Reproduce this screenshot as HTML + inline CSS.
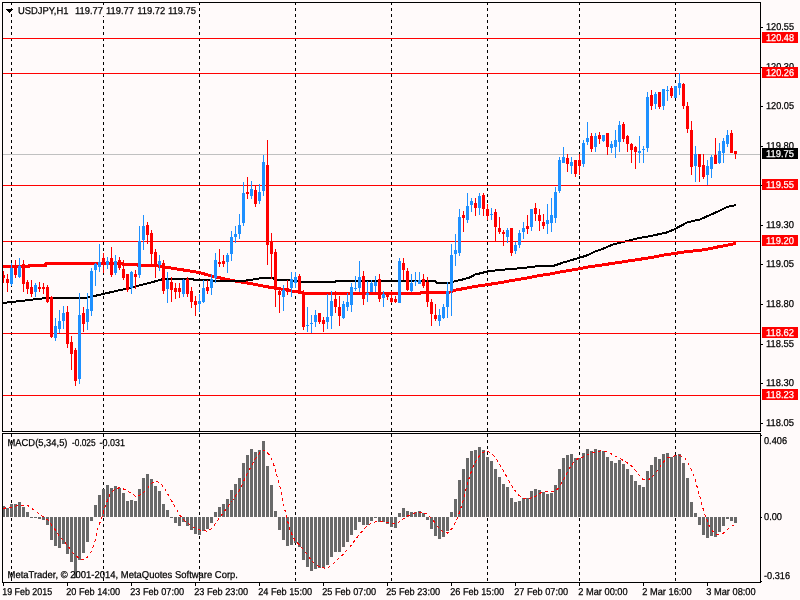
<!DOCTYPE html>
<html><head><meta charset="utf-8"><title>USDJPY,H1</title>
<style>html,body{margin:0;padding:0;background:#FFFAFA;overflow:hidden}svg{display:block}text{font-family:"Liberation Sans",sans-serif;font-size:10px;text-rendering:geometricPrecision;fill:#000;stroke:#000;stroke-width:0.25px}.w{fill:#fff;stroke:#fff}</style></head><body>
<svg width="800" height="600" viewBox="0 0 800 600">
<rect width="800" height="600" fill="#FFFAFA"/>
<g shape-rendering="crispEdges">
<line x1="11.5" y1="2" x2="11.5" y2="431" stroke="#000" stroke-width="1" stroke-dasharray="3 3"/>
<line x1="11.5" y1="434" x2="11.5" y2="582" stroke="#000" stroke-width="1" stroke-dasharray="3 3"/>
<line x1="103.5" y1="2" x2="103.5" y2="431" stroke="#000" stroke-width="1" stroke-dasharray="3 3"/>
<line x1="103.5" y1="434" x2="103.5" y2="582" stroke="#000" stroke-width="1" stroke-dasharray="3 3"/>
<line x1="199.5" y1="2" x2="199.5" y2="431" stroke="#000" stroke-width="1" stroke-dasharray="3 3"/>
<line x1="199.5" y1="434" x2="199.5" y2="582" stroke="#000" stroke-width="1" stroke-dasharray="3 3"/>
<line x1="295.5" y1="2" x2="295.5" y2="431" stroke="#000" stroke-width="1" stroke-dasharray="3 3"/>
<line x1="295.5" y1="434" x2="295.5" y2="582" stroke="#000" stroke-width="1" stroke-dasharray="3 3"/>
<line x1="391.5" y1="2" x2="391.5" y2="431" stroke="#000" stroke-width="1" stroke-dasharray="3 3"/>
<line x1="391.5" y1="434" x2="391.5" y2="582" stroke="#000" stroke-width="1" stroke-dasharray="3 3"/>
<line x1="487.5" y1="2" x2="487.5" y2="431" stroke="#000" stroke-width="1" stroke-dasharray="3 3"/>
<line x1="487.5" y1="434" x2="487.5" y2="582" stroke="#000" stroke-width="1" stroke-dasharray="3 3"/>
<line x1="579.5" y1="2" x2="579.5" y2="431" stroke="#000" stroke-width="1" stroke-dasharray="3 3"/>
<line x1="579.5" y1="434" x2="579.5" y2="582" stroke="#000" stroke-width="1" stroke-dasharray="3 3"/>
<line x1="675.5" y1="2" x2="675.5" y2="431" stroke="#000" stroke-width="1" stroke-dasharray="3 3"/>
<line x1="675.5" y1="434" x2="675.5" y2="582" stroke="#000" stroke-width="1" stroke-dasharray="3 3"/>
<rect x="18" y="5" width="179" height="11" fill="#FFFAFA"/>
<polyline points="3,266.5 28.5,266.5 29,265.5 45.5,265.5 46,263.5 122,263.5 123,264.5 137,264.5 138,265.5 155,265.5 165,267 175,268.75 187.5,270.6 200,272.75 212.5,276.25 225,279 237.5,281.5 250,283.4 262.5,285.9 272.5,287.75 281,289 291,290.9 300,292.1 304,293.2 420,293.2 422,292 450,292 456,290 465,288.4 475,286.5 487.5,284.6 500,282.7 512.5,280.4 525,278.4 537.5,275.9 550,274 562.5,271.5 575,269.6 587.5,267.1 600,265.3 612.5,263.4 625,261.5 637.5,259.6 650,257.75 662.5,255.25 675,253.4 687.5,251.5 700,250.4 710,248.6 720,246.5 728,245 736,243.5" fill="none" stroke="#FF0000" stroke-width="3" stroke-linejoin="round"/>
<polyline points="3,303 25,300.5 46,298 86,298 100,294.7 125,289 150,282.8 162.5,279.2 167,279 192,279 195,280 212,280 214,281 242,281 250,280 256,279 265,277.5 270,277.5 277,279.5 288,279.5 292,280.5 300,281.5 303,282 335,282 336,281 435,281.3 437,282.75 450,282.75 454,281.5 462.5,279.5 470,277.4 475,274.6 487.5,271.5 500,269.9 512.5,269 525,267.75 537.5,266.25 554,265.75 562.5,262.75 575,259.1 587.5,255.25 595,251.5 600,250 612.5,244.6 625,241.5 637.5,238.4 650,236.1 666,232.75 675,229 687.5,222.2 700,219.5 710,215 720,210.5 727,207 736,205" fill="none" stroke="#000" stroke-width="2" stroke-linejoin="round"/>
<rect x="3" y="154" width="757" height="1" fill="#C0C0C0"/>
<rect x="3" y="38" width="757" height="1" fill="#FF0000"/>
<rect x="3" y="73" width="757" height="1" fill="#FF0000"/>
<rect x="3" y="185" width="757" height="1" fill="#FF0000"/>
<rect x="3" y="241" width="757" height="1" fill="#FF0000"/>
<rect x="3" y="333" width="757" height="1" fill="#FF0000"/>
<rect x="3" y="395" width="757" height="1" fill="#FF0000"/>
<rect x="3" y="271" width="1" height="12" fill="#FF0000"/>
<rect x="2" y="275" width="3" height="3" fill="#FF0000"/>
<rect x="7" y="274" width="1" height="18" fill="#FF0000"/>
<rect x="6" y="279" width="3" height="4" fill="#FF0000"/>
<rect x="11" y="263" width="1" height="23" fill="#1E90FF"/>
<rect x="10" y="268" width="3" height="16" fill="#1E90FF"/>
<rect x="15" y="260" width="1" height="18" fill="#FF0000"/>
<rect x="14" y="266" width="3" height="9" fill="#FF0000"/>
<rect x="19" y="258" width="1" height="20" fill="#1E90FF"/>
<rect x="18" y="266" width="3" height="11" fill="#1E90FF"/>
<rect x="23" y="260" width="1" height="32" fill="#FF0000"/>
<rect x="22" y="264" width="3" height="20" fill="#FF0000"/>
<rect x="27" y="280" width="1" height="14" fill="#FF0000"/>
<rect x="26" y="282" width="3" height="7" fill="#FF0000"/>
<rect x="31" y="280" width="1" height="17" fill="#FF0000"/>
<rect x="30" y="287" width="3" height="7" fill="#FF0000"/>
<rect x="35" y="283" width="1" height="14" fill="#1E90FF"/>
<rect x="34" y="285" width="3" height="7" fill="#1E90FF"/>
<rect x="39" y="282" width="1" height="10" fill="#FF0000"/>
<rect x="38" y="287" width="3" height="2" fill="#FF0000"/>
<rect x="43" y="283" width="1" height="11" fill="#FF0000"/>
<rect x="42" y="287" width="3" height="2" fill="#FF0000"/>
<rect x="47" y="285" width="1" height="18" fill="#FF0000"/>
<rect x="46" y="287" width="3" height="15" fill="#FF0000"/>
<rect x="51" y="296" width="1" height="42" fill="#FF0000"/>
<rect x="50" y="297" width="3" height="40" fill="#FF0000"/>
<rect x="55" y="318" width="1" height="23" fill="#1E90FF"/>
<rect x="54" y="326" width="3" height="12" fill="#1E90FF"/>
<rect x="59" y="310" width="1" height="23" fill="#1E90FF"/>
<rect x="58" y="321" width="3" height="8" fill="#1E90FF"/>
<rect x="63" y="306" width="1" height="23" fill="#1E90FF"/>
<rect x="62" y="313" width="3" height="8" fill="#1E90FF"/>
<rect x="67" y="306" width="1" height="42" fill="#FF0000"/>
<rect x="66" y="312" width="3" height="32" fill="#FF0000"/>
<rect x="71" y="336" width="1" height="34" fill="#FF0000"/>
<rect x="70" y="342" width="3" height="12" fill="#FF0000"/>
<rect x="75" y="348" width="1" height="38" fill="#FF0000"/>
<rect x="74" y="350" width="3" height="31" fill="#FF0000"/>
<rect x="79" y="293" width="1" height="91" fill="#1E90FF"/>
<rect x="78" y="315" width="3" height="64" fill="#1E90FF"/>
<rect x="83" y="307" width="1" height="25" fill="#FF0000"/>
<rect x="82" y="313" width="3" height="11" fill="#FF0000"/>
<rect x="87" y="293" width="1" height="37" fill="#1E90FF"/>
<rect x="86" y="309" width="3" height="13" fill="#1E90FF"/>
<rect x="91" y="268" width="1" height="48" fill="#1E90FF"/>
<rect x="90" y="271" width="3" height="40" fill="#1E90FF"/>
<rect x="95" y="263" width="1" height="23" fill="#1E90FF"/>
<rect x="94" y="264" width="3" height="6" fill="#1E90FF"/>
<rect x="99" y="244" width="1" height="28" fill="#1E90FF"/>
<rect x="98" y="262" width="3" height="5" fill="#1E90FF"/>
<rect x="103" y="253" width="1" height="20" fill="#FF0000"/>
<rect x="102" y="258" width="3" height="6" fill="#FF0000"/>
<rect x="107" y="257" width="1" height="12" fill="#1E90FF"/>
<rect x="106" y="261" width="3" height="4" fill="#1E90FF"/>
<rect x="111" y="247" width="1" height="30" fill="#FF0000"/>
<rect x="110" y="258" width="3" height="17" fill="#FF0000"/>
<rect x="115" y="255" width="1" height="20" fill="#1E90FF"/>
<rect x="114" y="261" width="3" height="12" fill="#1E90FF"/>
<rect x="119" y="257" width="1" height="13" fill="#FF0000"/>
<rect x="118" y="260" width="3" height="8" fill="#FF0000"/>
<rect x="123" y="260" width="1" height="20" fill="#FF0000"/>
<rect x="122" y="269" width="3" height="9" fill="#FF0000"/>
<rect x="127" y="274" width="1" height="18" fill="#FF0000"/>
<rect x="126" y="274" width="3" height="16" fill="#FF0000"/>
<rect x="131" y="271" width="1" height="23" fill="#1E90FF"/>
<rect x="130" y="272" width="3" height="16" fill="#1E90FF"/>
<rect x="135" y="270" width="1" height="19" fill="#FF0000"/>
<rect x="134" y="274" width="3" height="3" fill="#FF0000"/>
<rect x="139" y="226" width="1" height="52" fill="#1E90FF"/>
<rect x="138" y="241" width="3" height="34" fill="#1E90FF"/>
<rect x="143" y="215" width="1" height="35" fill="#1E90FF"/>
<rect x="142" y="226" width="3" height="14" fill="#1E90FF"/>
<rect x="147" y="222" width="1" height="22" fill="#FF0000"/>
<rect x="146" y="225" width="3" height="10" fill="#FF0000"/>
<rect x="151" y="230" width="1" height="34" fill="#FF0000"/>
<rect x="150" y="233" width="3" height="21" fill="#FF0000"/>
<rect x="155" y="249" width="1" height="29" fill="#FF0000"/>
<rect x="154" y="252" width="3" height="13" fill="#FF0000"/>
<rect x="159" y="255" width="1" height="16" fill="#1E90FF"/>
<rect x="158" y="261" width="3" height="4" fill="#1E90FF"/>
<rect x="163" y="260" width="1" height="34" fill="#FF0000"/>
<rect x="162" y="263" width="3" height="28" fill="#FF0000"/>
<rect x="167" y="272" width="1" height="31" fill="#1E90FF"/>
<rect x="166" y="280" width="3" height="9" fill="#1E90FF"/>
<rect x="171" y="277" width="1" height="25" fill="#FF0000"/>
<rect x="170" y="282" width="3" height="8" fill="#FF0000"/>
<rect x="175" y="283" width="1" height="16" fill="#FF0000"/>
<rect x="174" y="288" width="3" height="4" fill="#FF0000"/>
<rect x="179" y="283" width="1" height="15" fill="#FF0000"/>
<rect x="178" y="288" width="3" height="4" fill="#FF0000"/>
<rect x="183" y="279" width="1" height="18" fill="#1E90FF"/>
<rect x="182" y="280" width="3" height="14" fill="#1E90FF"/>
<rect x="187" y="277" width="1" height="20" fill="#FF0000"/>
<rect x="186" y="279" width="3" height="15" fill="#FF0000"/>
<rect x="191" y="287" width="1" height="21" fill="#FF0000"/>
<rect x="190" y="291" width="3" height="11" fill="#FF0000"/>
<rect x="195" y="296" width="1" height="20" fill="#FF0000"/>
<rect x="194" y="301" width="3" height="4" fill="#FF0000"/>
<rect x="199" y="294" width="1" height="18" fill="#1E90FF"/>
<rect x="198" y="301" width="3" height="3" fill="#1E90FF"/>
<rect x="203" y="280" width="1" height="23" fill="#1E90FF"/>
<rect x="202" y="288" width="3" height="14" fill="#1E90FF"/>
<rect x="207" y="280" width="1" height="14" fill="#FF0000"/>
<rect x="206" y="287" width="3" height="4" fill="#FF0000"/>
<rect x="211" y="274" width="1" height="21" fill="#1E90FF"/>
<rect x="210" y="279" width="3" height="9" fill="#1E90FF"/>
<rect x="215" y="253" width="1" height="30" fill="#1E90FF"/>
<rect x="214" y="260" width="3" height="18" fill="#1E90FF"/>
<rect x="219" y="249" width="1" height="18" fill="#FF0000"/>
<rect x="218" y="262" width="3" height="2" fill="#FF0000"/>
<rect x="223" y="255" width="1" height="12" fill="#FF0000"/>
<rect x="222" y="261" width="3" height="3" fill="#FF0000"/>
<rect x="227" y="253" width="1" height="20" fill="#1E90FF"/>
<rect x="226" y="255" width="3" height="7" fill="#1E90FF"/>
<rect x="231" y="231" width="1" height="30" fill="#1E90FF"/>
<rect x="230" y="237" width="3" height="17" fill="#1E90FF"/>
<rect x="235" y="226" width="1" height="17" fill="#1E90FF"/>
<rect x="234" y="234" width="3" height="3" fill="#1E90FF"/>
<rect x="239" y="214" width="1" height="25" fill="#1E90FF"/>
<rect x="238" y="225" width="3" height="9" fill="#1E90FF"/>
<rect x="243" y="182" width="1" height="44" fill="#1E90FF"/>
<rect x="242" y="193" width="3" height="30" fill="#1E90FF"/>
<rect x="247" y="177" width="1" height="22" fill="#FF0000"/>
<rect x="246" y="192" width="3" height="2" fill="#FF0000"/>
<rect x="251" y="181" width="1" height="18" fill="#1E90FF"/>
<rect x="250" y="189" width="3" height="7" fill="#1E90FF"/>
<rect x="255" y="186" width="1" height="21" fill="#FF0000"/>
<rect x="254" y="190" width="3" height="14" fill="#FF0000"/>
<rect x="259" y="184" width="1" height="20" fill="#1E90FF"/>
<rect x="258" y="192" width="3" height="9" fill="#1E90FF"/>
<rect x="263" y="155" width="1" height="41" fill="#1E90FF"/>
<rect x="262" y="162" width="3" height="29" fill="#1E90FF"/>
<rect x="267" y="140" width="1" height="125" fill="#FF0000"/>
<rect x="266" y="165" width="3" height="80" fill="#FF0000"/>
<rect x="271" y="233" width="1" height="46" fill="#FF0000"/>
<rect x="270" y="241" width="3" height="13" fill="#FF0000"/>
<rect x="275" y="249" width="1" height="58" fill="#FF0000"/>
<rect x="274" y="252" width="3" height="38" fill="#FF0000"/>
<rect x="279" y="290" width="1" height="23" fill="#FF0000"/>
<rect x="278" y="291" width="3" height="4" fill="#FF0000"/>
<rect x="283" y="285" width="1" height="26" fill="#1E90FF"/>
<rect x="282" y="290" width="3" height="7" fill="#1E90FF"/>
<rect x="287" y="280" width="1" height="15" fill="#FF0000"/>
<rect x="286" y="288" width="3" height="3" fill="#FF0000"/>
<rect x="291" y="272" width="1" height="25" fill="#1E90FF"/>
<rect x="290" y="279" width="3" height="9" fill="#1E90FF"/>
<rect x="295" y="272" width="1" height="16" fill="#1E90FF"/>
<rect x="294" y="277" width="3" height="6" fill="#1E90FF"/>
<rect x="299" y="274" width="1" height="20" fill="#FF0000"/>
<rect x="298" y="276" width="3" height="18" fill="#FF0000"/>
<rect x="303" y="290" width="1" height="40" fill="#FF0000"/>
<rect x="302" y="293" width="3" height="34" fill="#FF0000"/>
<rect x="307" y="307" width="1" height="25" fill="#1E90FF"/>
<rect x="306" y="325" width="3" height="1" fill="#1E90FF"/>
<rect x="311" y="315" width="1" height="18" fill="#1E90FF"/>
<rect x="310" y="323" width="3" height="1" fill="#1E90FF"/>
<rect x="315" y="310" width="1" height="17" fill="#1E90FF"/>
<rect x="314" y="315" width="3" height="7" fill="#1E90FF"/>
<rect x="319" y="313" width="1" height="11" fill="#FF0000"/>
<rect x="318" y="313" width="3" height="9" fill="#FF0000"/>
<rect x="323" y="317" width="1" height="15" fill="#FF0000"/>
<rect x="322" y="320" width="3" height="4" fill="#FF0000"/>
<rect x="327" y="294" width="1" height="35" fill="#1E90FF"/>
<rect x="326" y="317" width="3" height="5" fill="#1E90FF"/>
<rect x="331" y="291" width="1" height="38" fill="#1E90FF"/>
<rect x="330" y="301" width="3" height="15" fill="#1E90FF"/>
<rect x="335" y="291" width="1" height="22" fill="#FF0000"/>
<rect x="334" y="299" width="3" height="8" fill="#FF0000"/>
<rect x="339" y="296" width="1" height="30" fill="#FF0000"/>
<rect x="338" y="307" width="3" height="9" fill="#FF0000"/>
<rect x="343" y="301" width="1" height="18" fill="#1E90FF"/>
<rect x="342" y="304" width="3" height="14" fill="#1E90FF"/>
<rect x="347" y="293" width="1" height="18" fill="#1E90FF"/>
<rect x="346" y="302" width="3" height="5" fill="#1E90FF"/>
<rect x="351" y="283" width="1" height="29" fill="#1E90FF"/>
<rect x="350" y="287" width="3" height="18" fill="#1E90FF"/>
<rect x="355" y="276" width="1" height="15" fill="#1E90FF"/>
<rect x="354" y="288" width="3" height="1" fill="#1E90FF"/>
<rect x="359" y="261" width="1" height="31" fill="#1E90FF"/>
<rect x="358" y="277" width="3" height="11" fill="#1E90FF"/>
<rect x="363" y="271" width="1" height="34" fill="#FF0000"/>
<rect x="362" y="276" width="3" height="23" fill="#FF0000"/>
<rect x="367" y="281" width="1" height="21" fill="#1E90FF"/>
<rect x="366" y="293" width="3" height="2" fill="#1E90FF"/>
<rect x="371" y="280" width="1" height="12" fill="#1E90FF"/>
<rect x="370" y="283" width="3" height="9" fill="#1E90FF"/>
<rect x="375" y="276" width="1" height="16" fill="#1E90FF"/>
<rect x="374" y="282" width="3" height="4" fill="#1E90FF"/>
<rect x="379" y="274" width="1" height="28" fill="#FF0000"/>
<rect x="378" y="279" width="3" height="20" fill="#FF0000"/>
<rect x="383" y="291" width="1" height="16" fill="#1E90FF"/>
<rect x="382" y="294" width="3" height="4" fill="#1E90FF"/>
<rect x="387" y="292" width="1" height="8" fill="#FF0000"/>
<rect x="386" y="294" width="3" height="3" fill="#FF0000"/>
<rect x="391" y="291" width="1" height="12" fill="#FF0000"/>
<rect x="390" y="298" width="3" height="4" fill="#FF0000"/>
<rect x="395" y="296" width="1" height="7" fill="#FF0000"/>
<rect x="394" y="299" width="3" height="3" fill="#FF0000"/>
<rect x="399" y="258" width="1" height="45" fill="#1E90FF"/>
<rect x="398" y="261" width="3" height="42" fill="#1E90FF"/>
<rect x="403" y="258" width="1" height="22" fill="#FF0000"/>
<rect x="402" y="263" width="3" height="7" fill="#FF0000"/>
<rect x="407" y="268" width="1" height="23" fill="#FF0000"/>
<rect x="406" y="271" width="3" height="19" fill="#FF0000"/>
<rect x="411" y="274" width="1" height="18" fill="#1E90FF"/>
<rect x="410" y="283" width="3" height="8" fill="#1E90FF"/>
<rect x="415" y="272" width="1" height="14" fill="#1E90FF"/>
<rect x="414" y="281" width="3" height="1" fill="#1E90FF"/>
<rect x="419" y="272" width="1" height="12" fill="#1E90FF"/>
<rect x="418" y="280" width="3" height="4" fill="#1E90FF"/>
<rect x="423" y="274" width="1" height="14" fill="#FF0000"/>
<rect x="422" y="279" width="3" height="7" fill="#FF0000"/>
<rect x="427" y="277" width="1" height="30" fill="#FF0000"/>
<rect x="426" y="282" width="3" height="20" fill="#FF0000"/>
<rect x="431" y="299" width="1" height="27" fill="#FF0000"/>
<rect x="430" y="302" width="3" height="12" fill="#FF0000"/>
<rect x="435" y="304" width="1" height="17" fill="#FF0000"/>
<rect x="434" y="315" width="3" height="4" fill="#FF0000"/>
<rect x="439" y="309" width="1" height="17" fill="#1E90FF"/>
<rect x="438" y="315" width="3" height="6" fill="#1E90FF"/>
<rect x="443" y="304" width="1" height="15" fill="#1E90FF"/>
<rect x="442" y="307" width="3" height="11" fill="#1E90FF"/>
<rect x="447" y="282" width="1" height="36" fill="#1E90FF"/>
<rect x="446" y="291" width="3" height="16" fill="#1E90FF"/>
<rect x="451" y="244" width="1" height="72" fill="#1E90FF"/>
<rect x="450" y="255" width="3" height="36" fill="#1E90FF"/>
<rect x="455" y="234" width="1" height="32" fill="#1E90FF"/>
<rect x="454" y="250" width="3" height="4" fill="#1E90FF"/>
<rect x="459" y="209" width="1" height="47" fill="#1E90FF"/>
<rect x="458" y="217" width="3" height="36" fill="#1E90FF"/>
<rect x="463" y="211" width="1" height="21" fill="#FF0000"/>
<rect x="462" y="215" width="3" height="3" fill="#FF0000"/>
<rect x="467" y="193" width="1" height="30" fill="#1E90FF"/>
<rect x="466" y="206" width="3" height="14" fill="#1E90FF"/>
<rect x="471" y="198" width="1" height="14" fill="#1E90FF"/>
<rect x="470" y="201" width="3" height="4" fill="#1E90FF"/>
<rect x="475" y="198" width="1" height="18" fill="#FF0000"/>
<rect x="474" y="203" width="3" height="5" fill="#FF0000"/>
<rect x="479" y="193" width="1" height="22" fill="#1E90FF"/>
<rect x="478" y="196" width="3" height="12" fill="#1E90FF"/>
<rect x="483" y="193" width="1" height="23" fill="#FF0000"/>
<rect x="482" y="195" width="3" height="14" fill="#FF0000"/>
<rect x="487" y="204" width="1" height="16" fill="#FF0000"/>
<rect x="486" y="209" width="3" height="7" fill="#FF0000"/>
<rect x="491" y="208" width="1" height="12" fill="#1E90FF"/>
<rect x="490" y="214" width="3" height="1" fill="#1E90FF"/>
<rect x="495" y="209" width="1" height="32" fill="#FF0000"/>
<rect x="494" y="212" width="3" height="15" fill="#FF0000"/>
<rect x="499" y="217" width="1" height="17" fill="#FF0000"/>
<rect x="498" y="228" width="3" height="4" fill="#FF0000"/>
<rect x="503" y="230" width="1" height="16" fill="#FF0000"/>
<rect x="502" y="232" width="3" height="2" fill="#FF0000"/>
<rect x="507" y="228" width="1" height="15" fill="#1E90FF"/>
<rect x="506" y="230" width="3" height="7" fill="#1E90FF"/>
<rect x="511" y="228" width="1" height="28" fill="#FF0000"/>
<rect x="510" y="228" width="3" height="25" fill="#FF0000"/>
<rect x="515" y="242" width="1" height="12" fill="#1E90FF"/>
<rect x="514" y="245" width="3" height="6" fill="#1E90FF"/>
<rect x="519" y="230" width="1" height="18" fill="#1E90FF"/>
<rect x="518" y="233" width="3" height="12" fill="#1E90FF"/>
<rect x="523" y="222" width="1" height="17" fill="#1E90FF"/>
<rect x="522" y="228" width="3" height="4" fill="#1E90FF"/>
<rect x="527" y="215" width="1" height="19" fill="#FF0000"/>
<rect x="526" y="226" width="3" height="3" fill="#FF0000"/>
<rect x="531" y="209" width="1" height="22" fill="#1E90FF"/>
<rect x="530" y="209" width="3" height="18" fill="#1E90FF"/>
<rect x="535" y="203" width="1" height="18" fill="#FF0000"/>
<rect x="534" y="208" width="3" height="6" fill="#FF0000"/>
<rect x="539" y="209" width="1" height="22" fill="#FF0000"/>
<rect x="538" y="215" width="3" height="6" fill="#FF0000"/>
<rect x="543" y="214" width="1" height="15" fill="#FF0000"/>
<rect x="542" y="222" width="3" height="4" fill="#FF0000"/>
<rect x="547" y="204" width="1" height="30" fill="#1E90FF"/>
<rect x="546" y="220" width="3" height="4" fill="#1E90FF"/>
<rect x="551" y="198" width="1" height="34" fill="#1E90FF"/>
<rect x="550" y="215" width="3" height="8" fill="#1E90FF"/>
<rect x="555" y="187" width="1" height="36" fill="#1E90FF"/>
<rect x="554" y="192" width="3" height="26" fill="#1E90FF"/>
<rect x="559" y="157" width="1" height="36" fill="#1E90FF"/>
<rect x="558" y="160" width="3" height="31" fill="#1E90FF"/>
<rect x="563" y="147" width="1" height="16" fill="#1E90FF"/>
<rect x="562" y="157" width="3" height="6" fill="#1E90FF"/>
<rect x="567" y="154" width="1" height="18" fill="#FF0000"/>
<rect x="566" y="158" width="3" height="6" fill="#FF0000"/>
<rect x="571" y="157" width="1" height="17" fill="#1E90FF"/>
<rect x="570" y="162" width="3" height="4" fill="#1E90FF"/>
<rect x="575" y="160" width="1" height="17" fill="#FF0000"/>
<rect x="574" y="160" width="3" height="14" fill="#FF0000"/>
<rect x="579" y="154" width="1" height="21" fill="#FF0000"/>
<rect x="578" y="160" width="3" height="6" fill="#FF0000"/>
<rect x="583" y="140" width="1" height="27" fill="#1E90FF"/>
<rect x="582" y="143" width="3" height="21" fill="#1E90FF"/>
<rect x="587" y="122" width="1" height="23" fill="#1E90FF"/>
<rect x="586" y="138" width="3" height="4" fill="#1E90FF"/>
<rect x="591" y="133" width="1" height="19" fill="#FF0000"/>
<rect x="590" y="136" width="3" height="13" fill="#FF0000"/>
<rect x="595" y="133" width="1" height="19" fill="#1E90FF"/>
<rect x="594" y="136" width="3" height="11" fill="#1E90FF"/>
<rect x="599" y="132" width="1" height="12" fill="#FF0000"/>
<rect x="598" y="135" width="3" height="4" fill="#FF0000"/>
<rect x="603" y="135" width="1" height="7" fill="#1E90FF"/>
<rect x="602" y="135" width="3" height="6" fill="#1E90FF"/>
<rect x="607" y="133" width="1" height="22" fill="#FF0000"/>
<rect x="606" y="133" width="3" height="14" fill="#FF0000"/>
<rect x="611" y="141" width="1" height="12" fill="#1E90FF"/>
<rect x="610" y="144" width="3" height="4" fill="#1E90FF"/>
<rect x="615" y="130" width="1" height="28" fill="#1E90FF"/>
<rect x="614" y="140" width="3" height="7" fill="#1E90FF"/>
<rect x="619" y="121" width="1" height="31" fill="#1E90FF"/>
<rect x="618" y="125" width="3" height="17" fill="#1E90FF"/>
<rect x="623" y="122" width="1" height="20" fill="#FF0000"/>
<rect x="622" y="124" width="3" height="15" fill="#FF0000"/>
<rect x="627" y="135" width="1" height="17" fill="#FF0000"/>
<rect x="626" y="136" width="3" height="8" fill="#FF0000"/>
<rect x="631" y="143" width="1" height="20" fill="#FF0000"/>
<rect x="630" y="144" width="3" height="6" fill="#FF0000"/>
<rect x="635" y="146" width="1" height="23" fill="#FF0000"/>
<rect x="634" y="147" width="3" height="5" fill="#FF0000"/>
<rect x="639" y="136" width="1" height="27" fill="#1E90FF"/>
<rect x="638" y="151" width="3" height="2" fill="#1E90FF"/>
<rect x="643" y="146" width="1" height="17" fill="#1E90FF"/>
<rect x="642" y="149" width="3" height="1" fill="#1E90FF"/>
<rect x="647" y="92" width="1" height="60" fill="#1E90FF"/>
<rect x="646" y="97" width="3" height="51" fill="#1E90FF"/>
<rect x="651" y="90" width="1" height="20" fill="#FF0000"/>
<rect x="650" y="95" width="3" height="11" fill="#FF0000"/>
<rect x="655" y="92" width="1" height="17" fill="#1E90FF"/>
<rect x="654" y="94" width="3" height="10" fill="#1E90FF"/>
<rect x="659" y="92" width="1" height="17" fill="#FF0000"/>
<rect x="658" y="92" width="3" height="15" fill="#FF0000"/>
<rect x="663" y="89" width="1" height="21" fill="#1E90FF"/>
<rect x="662" y="89" width="3" height="17" fill="#1E90FF"/>
<rect x="667" y="86" width="1" height="15" fill="#1E90FF"/>
<rect x="666" y="90" width="3" height="1" fill="#1E90FF"/>
<rect x="671" y="86" width="1" height="12" fill="#FF0000"/>
<rect x="670" y="88" width="3" height="8" fill="#FF0000"/>
<rect x="675" y="86" width="1" height="12" fill="#1E90FF"/>
<rect x="674" y="86" width="3" height="12" fill="#1E90FF"/>
<rect x="679" y="73" width="1" height="22" fill="#1E90FF"/>
<rect x="678" y="83" width="3" height="5" fill="#1E90FF"/>
<rect x="683" y="83" width="1" height="26" fill="#FF0000"/>
<rect x="682" y="84" width="3" height="22" fill="#FF0000"/>
<rect x="687" y="102" width="1" height="31" fill="#FF0000"/>
<rect x="686" y="106" width="3" height="23" fill="#FF0000"/>
<rect x="691" y="121" width="1" height="54" fill="#FF0000"/>
<rect x="690" y="130" width="3" height="37" fill="#FF0000"/>
<rect x="695" y="146" width="1" height="36" fill="#1E90FF"/>
<rect x="694" y="154" width="3" height="12" fill="#1E90FF"/>
<rect x="699" y="154" width="1" height="28" fill="#FF0000"/>
<rect x="698" y="154" width="3" height="13" fill="#FF0000"/>
<rect x="703" y="154" width="1" height="25" fill="#FF0000"/>
<rect x="702" y="165" width="3" height="12" fill="#FF0000"/>
<rect x="707" y="160" width="1" height="25" fill="#1E90FF"/>
<rect x="706" y="166" width="3" height="9" fill="#1E90FF"/>
<rect x="711" y="155" width="1" height="23" fill="#1E90FF"/>
<rect x="710" y="157" width="3" height="12" fill="#1E90FF"/>
<rect x="715" y="138" width="1" height="26" fill="#FF0000"/>
<rect x="714" y="155" width="3" height="9" fill="#FF0000"/>
<rect x="719" y="143" width="1" height="21" fill="#1E90FF"/>
<rect x="718" y="151" width="3" height="12" fill="#1E90FF"/>
<rect x="723" y="138" width="1" height="25" fill="#1E90FF"/>
<rect x="722" y="141" width="3" height="12" fill="#1E90FF"/>
<rect x="727" y="130" width="1" height="17" fill="#1E90FF"/>
<rect x="726" y="135" width="3" height="9" fill="#1E90FF"/>
<rect x="731" y="130" width="1" height="23" fill="#FF0000"/>
<rect x="730" y="133" width="3" height="20" fill="#FF0000"/>
<rect x="735" y="151" width="1" height="8" fill="#FF0000"/>
<rect x="734" y="151" width="3" height="3" fill="#FF0000"/>
<rect x="2" y="506" width="3" height="11" fill="#696969"/>
<rect x="6" y="508" width="3" height="9" fill="#696969"/>
<rect x="10" y="504" width="3" height="13" fill="#696969"/>
<rect x="14" y="504" width="3" height="13" fill="#696969"/>
<rect x="18" y="502" width="3" height="15" fill="#696969"/>
<rect x="22" y="507" width="3" height="10" fill="#696969"/>
<rect x="26" y="512" width="3" height="5" fill="#696969"/>
<rect x="30" y="517" width="3" height="1" fill="#696969"/>
<rect x="34" y="517" width="3" height="1" fill="#696969"/>
<rect x="38" y="517" width="3" height="2" fill="#696969"/>
<rect x="42" y="517" width="3" height="3" fill="#696969"/>
<rect x="46" y="517" width="3" height="8" fill="#696969"/>
<rect x="50" y="517" width="3" height="23" fill="#696969"/>
<rect x="54" y="517" width="3" height="29" fill="#696969"/>
<rect x="58" y="517" width="3" height="31" fill="#696969"/>
<rect x="62" y="517" width="3" height="27" fill="#696969"/>
<rect x="66" y="517" width="3" height="37" fill="#696969"/>
<rect x="70" y="517" width="3" height="45" fill="#696969"/>
<rect x="74" y="517" width="3" height="61" fill="#696969"/>
<rect x="78" y="517" width="3" height="43" fill="#696969"/>
<rect x="82" y="517" width="3" height="36" fill="#696969"/>
<rect x="86" y="517" width="3" height="25" fill="#696969"/>
<rect x="90" y="517" width="3" height="4" fill="#696969"/>
<rect x="94" y="505" width="3" height="12" fill="#696969"/>
<rect x="98" y="495" width="3" height="22" fill="#696969"/>
<rect x="102" y="489" width="3" height="28" fill="#696969"/>
<rect x="106" y="485" width="3" height="32" fill="#696969"/>
<rect x="110" y="488" width="3" height="29" fill="#696969"/>
<rect x="114" y="486" width="3" height="31" fill="#696969"/>
<rect x="118" y="488" width="3" height="29" fill="#696969"/>
<rect x="122" y="493" width="3" height="24" fill="#696969"/>
<rect x="126" y="501" width="3" height="16" fill="#696969"/>
<rect x="130" y="500" width="3" height="17" fill="#696969"/>
<rect x="134" y="501" width="3" height="16" fill="#696969"/>
<rect x="138" y="489" width="3" height="28" fill="#696969"/>
<rect x="142" y="478" width="3" height="39" fill="#696969"/>
<rect x="146" y="474" width="3" height="43" fill="#696969"/>
<rect x="150" y="479" width="3" height="38" fill="#696969"/>
<rect x="154" y="486" width="3" height="31" fill="#696969"/>
<rect x="158" y="491" width="3" height="26" fill="#696969"/>
<rect x="162" y="504" width="3" height="13" fill="#696969"/>
<rect x="166" y="510" width="3" height="7" fill="#696969"/>
<rect x="170" y="517" width="3" height="1" fill="#696969"/>
<rect x="174" y="517" width="3" height="6" fill="#696969"/>
<rect x="178" y="517" width="3" height="9" fill="#696969"/>
<rect x="182" y="517" width="3" height="5" fill="#696969"/>
<rect x="186" y="517" width="3" height="9" fill="#696969"/>
<rect x="190" y="517" width="3" height="13" fill="#696969"/>
<rect x="194" y="517" width="3" height="17" fill="#696969"/>
<rect x="198" y="517" width="3" height="18" fill="#696969"/>
<rect x="202" y="517" width="3" height="14" fill="#696969"/>
<rect x="206" y="517" width="3" height="12" fill="#696969"/>
<rect x="210" y="517" width="3" height="6" fill="#696969"/>
<rect x="214" y="512" width="3" height="5" fill="#696969"/>
<rect x="218" y="507" width="3" height="10" fill="#696969"/>
<rect x="222" y="504" width="3" height="13" fill="#696969"/>
<rect x="226" y="499" width="3" height="18" fill="#696969"/>
<rect x="230" y="490" width="3" height="27" fill="#696969"/>
<rect x="234" y="484" width="3" height="33" fill="#696969"/>
<rect x="238" y="478" width="3" height="39" fill="#696969"/>
<rect x="242" y="463" width="3" height="54" fill="#696969"/>
<rect x="246" y="455" width="3" height="62" fill="#696969"/>
<rect x="250" y="449" width="3" height="68" fill="#696969"/>
<rect x="254" y="452" width="3" height="65" fill="#696969"/>
<rect x="258" y="450" width="3" height="67" fill="#696969"/>
<rect x="262" y="441" width="3" height="76" fill="#696969"/>
<rect x="266" y="466" width="3" height="51" fill="#696969"/>
<rect x="270" y="485" width="3" height="32" fill="#696969"/>
<rect x="274" y="511" width="3" height="6" fill="#696969"/>
<rect x="278" y="517" width="3" height="13" fill="#696969"/>
<rect x="282" y="517" width="3" height="23" fill="#696969"/>
<rect x="286" y="517" width="3" height="29" fill="#696969"/>
<rect x="290" y="517" width="3" height="28" fill="#696969"/>
<rect x="294" y="517" width="3" height="26" fill="#696969"/>
<rect x="298" y="517" width="3" height="30" fill="#696969"/>
<rect x="302" y="517" width="3" height="43" fill="#696969"/>
<rect x="306" y="517" width="3" height="50" fill="#696969"/>
<rect x="310" y="517" width="3" height="54" fill="#696969"/>
<rect x="314" y="517" width="3" height="52" fill="#696969"/>
<rect x="318" y="517" width="3" height="51" fill="#696969"/>
<rect x="322" y="517" width="3" height="51" fill="#696969"/>
<rect x="326" y="517" width="3" height="48" fill="#696969"/>
<rect x="330" y="517" width="3" height="40" fill="#696969"/>
<rect x="334" y="517" width="3" height="35" fill="#696969"/>
<rect x="338" y="517" width="3" height="35" fill="#696969"/>
<rect x="342" y="517" width="3" height="30" fill="#696969"/>
<rect x="346" y="517" width="3" height="25" fill="#696969"/>
<rect x="350" y="517" width="3" height="18" fill="#696969"/>
<rect x="354" y="517" width="3" height="13" fill="#696969"/>
<rect x="358" y="517" width="3" height="5" fill="#696969"/>
<rect x="362" y="517" width="3" height="8" fill="#696969"/>
<rect x="366" y="517" width="3" height="8" fill="#696969"/>
<rect x="370" y="517" width="3" height="4" fill="#696969"/>
<rect x="374" y="517" width="3" height="1" fill="#696969"/>
<rect x="378" y="517" width="3" height="5" fill="#696969"/>
<rect x="382" y="517" width="3" height="5" fill="#696969"/>
<rect x="386" y="517" width="3" height="7" fill="#696969"/>
<rect x="390" y="517" width="3" height="10" fill="#696969"/>
<rect x="394" y="517" width="3" height="11" fill="#696969"/>
<rect x="398" y="513" width="3" height="4" fill="#696969"/>
<rect x="402" y="508" width="3" height="9" fill="#696969"/>
<rect x="406" y="511" width="3" height="6" fill="#696969"/>
<rect x="410" y="512" width="3" height="5" fill="#696969"/>
<rect x="414" y="512" width="3" height="5" fill="#696969"/>
<rect x="418" y="511" width="3" height="6" fill="#696969"/>
<rect x="422" y="513" width="3" height="4" fill="#696969"/>
<rect x="426" y="517" width="3" height="3" fill="#696969"/>
<rect x="430" y="517" width="3" height="12" fill="#696969"/>
<rect x="434" y="517" width="3" height="19" fill="#696969"/>
<rect x="438" y="517" width="3" height="22" fill="#696969"/>
<rect x="442" y="517" width="3" height="20" fill="#696969"/>
<rect x="446" y="517" width="3" height="14" fill="#696969"/>
<rect x="450" y="512" width="3" height="5" fill="#696969"/>
<rect x="454" y="499" width="3" height="18" fill="#696969"/>
<rect x="458" y="480" width="3" height="37" fill="#696969"/>
<rect x="462" y="469" width="3" height="48" fill="#696969"/>
<rect x="466" y="458" width="3" height="59" fill="#696969"/>
<rect x="470" y="451" width="3" height="66" fill="#696969"/>
<rect x="474" y="450" width="3" height="67" fill="#696969"/>
<rect x="478" y="447" width="3" height="70" fill="#696969"/>
<rect x="482" y="450" width="3" height="67" fill="#696969"/>
<rect x="486" y="457" width="3" height="60" fill="#696969"/>
<rect x="490" y="461" width="3" height="56" fill="#696969"/>
<rect x="494" y="469" width="3" height="48" fill="#696969"/>
<rect x="498" y="477" width="3" height="40" fill="#696969"/>
<rect x="502" y="484" width="3" height="33" fill="#696969"/>
<rect x="506" y="487" width="3" height="30" fill="#696969"/>
<rect x="510" y="498" width="3" height="19" fill="#696969"/>
<rect x="514" y="502" width="3" height="15" fill="#696969"/>
<rect x="518" y="501" width="3" height="16" fill="#696969"/>
<rect x="522" y="498" width="3" height="19" fill="#696969"/>
<rect x="526" y="498" width="3" height="19" fill="#696969"/>
<rect x="530" y="491" width="3" height="26" fill="#696969"/>
<rect x="534" y="489" width="3" height="28" fill="#696969"/>
<rect x="538" y="490" width="3" height="27" fill="#696969"/>
<rect x="542" y="492" width="3" height="25" fill="#696969"/>
<rect x="546" y="494" width="3" height="23" fill="#696969"/>
<rect x="550" y="493" width="3" height="24" fill="#696969"/>
<rect x="554" y="485" width="3" height="32" fill="#696969"/>
<rect x="558" y="469" width="3" height="48" fill="#696969"/>
<rect x="562" y="458" width="3" height="59" fill="#696969"/>
<rect x="566" y="455" width="3" height="62" fill="#696969"/>
<rect x="570" y="454" width="3" height="63" fill="#696969"/>
<rect x="574" y="458" width="3" height="59" fill="#696969"/>
<rect x="578" y="458" width="3" height="59" fill="#696969"/>
<rect x="582" y="453" width="3" height="64" fill="#696969"/>
<rect x="586" y="449" width="3" height="68" fill="#696969"/>
<rect x="590" y="451" width="3" height="66" fill="#696969"/>
<rect x="594" y="449" width="3" height="68" fill="#696969"/>
<rect x="598" y="450" width="3" height="67" fill="#696969"/>
<rect x="602" y="451" width="3" height="66" fill="#696969"/>
<rect x="606" y="457" width="3" height="60" fill="#696969"/>
<rect x="610" y="461" width="3" height="56" fill="#696969"/>
<rect x="614" y="463" width="3" height="54" fill="#696969"/>
<rect x="618" y="460" width="3" height="57" fill="#696969"/>
<rect x="622" y="464" width="3" height="53" fill="#696969"/>
<rect x="626" y="469" width="3" height="48" fill="#696969"/>
<rect x="630" y="475" width="3" height="42" fill="#696969"/>
<rect x="634" y="481" width="3" height="36" fill="#696969"/>
<rect x="638" y="485" width="3" height="32" fill="#696969"/>
<rect x="642" y="487" width="3" height="30" fill="#696969"/>
<rect x="646" y="471" width="3" height="46" fill="#696969"/>
<rect x="650" y="465" width="3" height="52" fill="#696969"/>
<rect x="654" y="457" width="3" height="60" fill="#696969"/>
<rect x="658" y="459" width="3" height="58" fill="#696969"/>
<rect x="662" y="454" width="3" height="63" fill="#696969"/>
<rect x="666" y="453" width="3" height="64" fill="#696969"/>
<rect x="670" y="457" width="3" height="60" fill="#696969"/>
<rect x="674" y="455" width="3" height="62" fill="#696969"/>
<rect x="678" y="454" width="3" height="63" fill="#696969"/>
<rect x="682" y="463" width="3" height="54" fill="#696969"/>
<rect x="686" y="478" width="3" height="39" fill="#696969"/>
<rect x="690" y="502" width="3" height="15" fill="#696969"/>
<rect x="694" y="513" width="3" height="4" fill="#696969"/>
<rect x="698" y="517" width="3" height="8" fill="#696969"/>
<rect x="702" y="517" width="3" height="18" fill="#696969"/>
<rect x="706" y="517" width="3" height="21" fill="#696969"/>
<rect x="710" y="517" width="3" height="19" fill="#696969"/>
<rect x="714" y="517" width="3" height="20" fill="#696969"/>
<rect x="718" y="517" width="3" height="15" fill="#696969"/>
<rect x="722" y="517" width="3" height="9" fill="#696969"/>
<rect x="726" y="517" width="3" height="2" fill="#696969"/>
<rect x="730" y="517" width="3" height="4" fill="#696969"/>
<rect x="734" y="517" width="3" height="6" fill="#696969"/>
</g>
<g shape-rendering="crispEdges">
<polyline points="3,508.4 12,507 20,505 28,505.6 34,510 40,514.4 48,520 54,528 60,537 68,546 74,554 80,559 85,559.6 90,554 94,545 98,528 102,517 106,504 110,494 115,489 120,487.6 126,490 132,494 137,497 142,494 148,488 150,484.25 155,481 160,482.5 165,489.25 170,498 175,506.75 180,515.5 185,521 192.5,526.75 200,530 207.5,531.25 212.5,528 217.5,520.5 225,510.5 232.5,500.5 240,489.25 247.5,473 255,459.25 260,452.5 265,450 270,455.5 275,468 280,486.75 285,510.5 290,530.5 295,540.5 300,545.5 305,551.75 312.5,561.75 320,567.5 327.5,568.5 332.5,564.25 340,556.75 342.5,555 350,546.75 357.5,536.75 365,528 371.25,523 377.5,521.25 385,521.75 392.5,523.5 396.25,524.25 401.25,520.5 407.5,516 415,513 422.5,512.25 427.5,514.25 432.5,519.25 437.5,526.75 442.5,531.75 447.5,533 452.5,528 457.5,518 462.5,503 467.5,483 472.5,468 477.5,458 482.5,452.5 487.5,451 492.5,454.25 497.5,460.5 502.5,469.25 507.5,478 512.5,486.75 517.5,494.25 522.5,498 527.5,499.25 530,498.5 535,496.75 541.25,492.5 547.5,491.75 553.75,491.75 558.75,488 563.75,479.25 568.75,469.25 573.75,461.75 578.75,458 583.75,456.75 590,453.5 596.25,451.75 602.5,450.5 608.75,452.5 615,456 621.25,459.25 627.5,463 632.5,466.75 637.5,473 642.5,479.25 647.5,480.5 652.5,476.75 657.5,470.5 662.5,463 667.5,458 673.75,456 680,455.5 685,458 690,466.75 695,479.25 698.6,492.2 700.8,500 703.6,510.8 706.4,518.7 709.2,526 712.6,531 717.1,534.4 723.3,533.3 729.5,527.7 735.1,524.3" fill="none" stroke="#FF0000" stroke-width="1" stroke-dasharray="3 3"/>
<rect x="2" y="2" width="759" height="1" fill="#000"/>
<rect x="2" y="431" width="759" height="1" fill="#000"/>
<rect x="2" y="433" width="759" height="1" fill="#000"/>
<rect x="2" y="582" width="759" height="1" fill="#000"/>
<rect x="2" y="2" width="1" height="430" fill="#000"/>
<rect x="2" y="433" width="1" height="150" fill="#000"/>
<rect x="760" y="2" width="1" height="430" fill="#000"/>
<rect x="760" y="433" width="1" height="150" fill="#000"/>
<rect x="761" y="27" width="2" height="1" fill="#000"/>
<rect x="761" y="67" width="2" height="1" fill="#000"/>
<rect x="761" y="106" width="2" height="1" fill="#000"/>
<rect x="761" y="146" width="2" height="1" fill="#000"/>
<rect x="761" y="185" width="2" height="1" fill="#000"/>
<rect x="761" y="225" width="2" height="1" fill="#000"/>
<rect x="761" y="264" width="2" height="1" fill="#000"/>
<rect x="761" y="304" width="2" height="1" fill="#000"/>
<rect x="761" y="344" width="2" height="1" fill="#000"/>
<rect x="761" y="383" width="2" height="1" fill="#000"/>
<rect x="761" y="423" width="2" height="1" fill="#000"/>
<rect x="761" y="435" width="1" height="1" fill="#000"/>
<rect x="761" y="517" width="1" height="1" fill="#000"/>
<rect x="761" y="581" width="1" height="1" fill="#000"/>
<rect x="3" y="583" width="1" height="3" fill="#000"/>
<rect x="67" y="583" width="1" height="3" fill="#000"/>
<rect x="131" y="583" width="1" height="3" fill="#000"/>
<rect x="195" y="583" width="1" height="3" fill="#000"/>
<rect x="259" y="583" width="1" height="3" fill="#000"/>
<rect x="323" y="583" width="1" height="3" fill="#000"/>
<rect x="387" y="583" width="1" height="3" fill="#000"/>
<rect x="451" y="583" width="1" height="3" fill="#000"/>
<rect x="515" y="583" width="1" height="3" fill="#000"/>
<rect x="579" y="583" width="1" height="3" fill="#000"/>
<rect x="643" y="583" width="1" height="3" fill="#000"/>
<rect x="707" y="583" width="1" height="3" fill="#000"/>
<path d="M6 9H13L9.5 13Z" fill="#000"/>
</g>
<text x="766" y="30" textLength="28" lengthAdjust="spacingAndGlyphs">120.55</text>
<text x="766" y="70" textLength="28" lengthAdjust="spacingAndGlyphs">120.30</text>
<text x="766" y="109" textLength="28" lengthAdjust="spacingAndGlyphs">120.05</text>
<text x="766" y="149" textLength="28" lengthAdjust="spacingAndGlyphs">119.80</text>
<text x="766" y="228" textLength="28" lengthAdjust="spacingAndGlyphs">119.30</text>
<text x="766" y="267" textLength="28" lengthAdjust="spacingAndGlyphs">119.05</text>
<text x="766" y="307" textLength="28" lengthAdjust="spacingAndGlyphs">118.80</text>
<text x="766" y="347" textLength="28" lengthAdjust="spacingAndGlyphs">118.55</text>
<text x="766" y="386" textLength="28" lengthAdjust="spacingAndGlyphs">118.30</text>
<text x="766" y="426" textLength="28" lengthAdjust="spacingAndGlyphs">118.05</text>
<g shape-rendering="crispEdges">
<rect x="762" y="32" width="36" height="11" fill="#FF0000"/>
<rect x="762" y="67" width="36" height="11" fill="#FF0000"/>
<rect x="762" y="179" width="36" height="11" fill="#FF0000"/>
<rect x="762" y="235" width="36" height="11" fill="#FF0000"/>
<rect x="762" y="327" width="36" height="11" fill="#FF0000"/>
<rect x="762" y="389" width="36" height="11" fill="#FF0000"/>
<rect x="762" y="148" width="36" height="11" fill="#000"/>
</g>
<text x="766" y="41" textLength="28" lengthAdjust="spacingAndGlyphs" class="w">120.48</text>
<text x="766" y="76" textLength="28" lengthAdjust="spacingAndGlyphs" class="w">120.26</text>
<text x="766" y="188" textLength="28" lengthAdjust="spacingAndGlyphs" class="w">119.55</text>
<text x="766" y="244" textLength="28" lengthAdjust="spacingAndGlyphs" class="w">119.20</text>
<text x="766" y="336" textLength="28" lengthAdjust="spacingAndGlyphs" class="w">118.62</text>
<text x="766" y="398" textLength="28" lengthAdjust="spacingAndGlyphs" class="w">118.23</text>
<text x="766" y="157" textLength="28" lengthAdjust="spacingAndGlyphs" class="w">119.75</text>
<text x="764" y="444" textLength="23" lengthAdjust="spacingAndGlyphs">0.406</text>
<text x="764" y="520" textLength="18" lengthAdjust="spacingAndGlyphs">0.00</text>
<text x="764" y="579" textLength="26" lengthAdjust="spacingAndGlyphs">-0.316</text>
<text x="18" y="14" textLength="50.5" lengthAdjust="spacingAndGlyphs">USDJPY,H1</text>
<text x="75" y="14" textLength="28" lengthAdjust="spacingAndGlyphs">119.77</text>
<text x="106" y="14" textLength="28" lengthAdjust="spacingAndGlyphs">119.77</text>
<text x="137.3" y="14" textLength="28" lengthAdjust="spacingAndGlyphs">119.72</text>
<text x="168" y="14" textLength="28" lengthAdjust="spacingAndGlyphs">119.75</text>
<text x="7.5" y="446" textLength="60" lengthAdjust="spacingAndGlyphs">MACD(5,34,5)</text>
<text x="72" y="446" textLength="23.6" lengthAdjust="spacingAndGlyphs">-0.025</text>
<text x="99.6" y="446" textLength="25.4" lengthAdjust="spacingAndGlyphs">-0.031</text>
<text x="7.5" y="578" textLength="230.5" lengthAdjust="spacingAndGlyphs">MetaTrader, © 2001-2014, MetaQuotes Software Corp.</text>
<text x="2.2" y="595" textLength="50" lengthAdjust="spacingAndGlyphs">19 Feb 2015</text>
<text x="66.2" y="595" textLength="54" lengthAdjust="spacingAndGlyphs">20 Feb 14:00</text>
<text x="130.2" y="595" textLength="54" lengthAdjust="spacingAndGlyphs">23 Feb 07:00</text>
<text x="194.2" y="595" textLength="54" lengthAdjust="spacingAndGlyphs">23 Feb 23:00</text>
<text x="258.2" y="595" textLength="54" lengthAdjust="spacingAndGlyphs">24 Feb 15:00</text>
<text x="322.2" y="595" textLength="54" lengthAdjust="spacingAndGlyphs">25 Feb 07:00</text>
<text x="386.2" y="595" textLength="54" lengthAdjust="spacingAndGlyphs">25 Feb 23:00</text>
<text x="450.2" y="595" textLength="54" lengthAdjust="spacingAndGlyphs">26 Feb 15:00</text>
<text x="514.2" y="595" textLength="54" lengthAdjust="spacingAndGlyphs">27 Feb 07:00</text>
<text x="578.2" y="595" textLength="49.5" lengthAdjust="spacingAndGlyphs">2 Mar 00:00</text>
<text x="642.2" y="595" textLength="49.5" lengthAdjust="spacingAndGlyphs">2 Mar 16:00</text>
<text x="706.2" y="595" textLength="49.5" lengthAdjust="spacingAndGlyphs">3 Mar 08:00</text>
</svg></body></html>
